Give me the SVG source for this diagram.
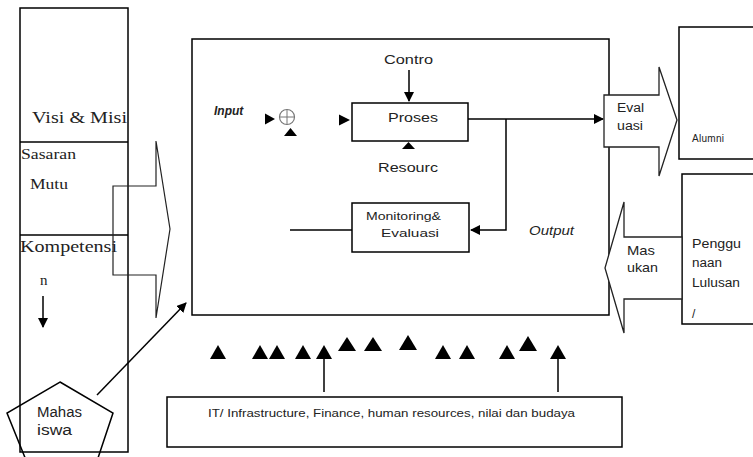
<svg xmlns="http://www.w3.org/2000/svg" width="753" height="457" viewBox="0 0 753 457">
<defs>
<style>
.ln{fill:none;stroke:#000;stroke-width:1.5}
.bx{fill:#fff;stroke:#000;stroke-width:1.5}
.thin{fill:none;stroke:#222;stroke-width:1.2}
.tri{fill:#000}
.serif{font-family:"Liberation Serif","DejaVu Serif",serif;fill:#222}
.sans{font-family:"Liberation Sans",Arial,sans-serif;fill:#222}
.it{font-style:italic}
</style>
<marker id="ahb" viewBox="0 0 10 10" refX="9" refY="5" markerWidth="10" markerHeight="10" orient="auto" markerUnits="userSpaceOnUse">
<path d="M0,0 L10,5 L0,10 z" fill="#000"/>
</marker>
</defs>
<rect width="753" height="457" fill="#fff"/>

<g id="left-column">
<rect class="bx" x="20" y="8" width="108" height="444"/>
<line class="ln" x1="20" y1="142" x2="128" y2="142"/>
<line class="ln" x1="20" y1="235" x2="128" y2="235"/>
<text class="serif" x="32" y="123" font-size="17" textLength="95" lengthAdjust="spacingAndGlyphs">Visi &amp; Misi</text>
<text class="serif" x="21" y="159" font-size="14" textLength="55" lengthAdjust="spacingAndGlyphs">Sasaran</text>
<text class="serif" x="30" y="189" font-size="15" textLength="38" lengthAdjust="spacingAndGlyphs">Mutu</text>
<text class="serif" x="20" y="252" font-size="16" textLength="97" lengthAdjust="spacingAndGlyphs">Kompetensi</text>
<text class="serif" x="40" y="285" font-size="15">n</text>
<line class="ln" x1="43" y1="296" x2="43" y2="327" marker-end="url(#ahb)"/>
</g>

<g id="big-arrow-right">
<polygon class="thin" points="113,186 156,186 156,141 170,229 156,318 156,275 113,275"/>
</g>

<g id="main-box">
<rect class="bx" x="192" y="39" width="417" height="276"/>
</g>

<g id="proses">
<rect class="bx" x="352" y="103" width="116" height="38"/>
<text class="sans" x="388" y="122" font-size="13.5" textLength="50" lengthAdjust="spacingAndGlyphs">Proses</text>
</g>

<g id="monitoring">
<rect class="bx" x="352" y="203" width="117" height="49"/>
<text class="sans" x="366" y="220" font-size="11" textLength="75" lengthAdjust="spacingAndGlyphs">Monitoring&amp;</text>
<text class="sans" x="381" y="237" font-size="11" textLength="58" lengthAdjust="spacingAndGlyphs">Evaluasi</text>
</g>

<g id="labels">
<text class="sans" x="384" y="64" font-size="13.5" textLength="49" lengthAdjust="spacingAndGlyphs">Contro</text>
<text class="sans" x="378" y="172" font-size="13.5" textLength="60" lengthAdjust="spacingAndGlyphs">Resourc</text>
<text class="sans it" x="214" y="115" font-size="12" font-weight="bold">Input</text>
<text class="sans it" x="529" y="235" font-size="13" textLength="45" lengthAdjust="spacingAndGlyphs">Output</text>
</g>

<g id="sum-junction">
<circle cx="287" cy="117" r="7.5" fill="none" stroke="#777" stroke-width="1.2"/>
<line x1="279.5" y1="117" x2="294.5" y2="117" stroke="#777" stroke-width="1"/>
<line x1="287" y1="109.5" x2="287" y2="124.5" stroke="#777" stroke-width="1"/>
<polygon class="tri" points="265,113.5 275,119 265,124.5"/>
<polygon class="tri" points="284,136 290.5,128 297,136"/>
<polygon class="tri" points="339,114.5 350,120 339,125.5"/>
<polygon class="tri" points="402,149 408.5,142 415,149"/>
</g>

<g id="connectors">
<line class="ln" x1="409" y1="70" x2="409" y2="101" marker-end="url(#ahb)"/>
<line class="ln" x1="468" y1="119" x2="603" y2="119" marker-end="url(#ahb)"/>
<polyline class="ln" points="506,119 506,230 471,230" marker-end="url(#ahb)"/>
<line class="ln" x1="290" y1="230" x2="352" y2="230"/>
<line class="ln" x1="97" y1="395" x2="186" y2="303" marker-end="url(#ahb)"/>
<line class="ln" x1="324" y1="392" x2="324" y2="352" stroke-width="2.2"/>
<line class="ln" x1="558" y1="392" x2="558" y2="352" stroke-width="2.2"/>
</g>

<g id="evaluasi-arrow">
<polygon fill="#fff" stroke="#222" stroke-width="1.3" points="604,95 659,95 659,67 677,120 659,176 659,147 604,147"/>
<text class="sans" x="617" y="112" font-size="12" textLength="27" lengthAdjust="spacingAndGlyphs">Eval</text>
<text class="sans" x="617" y="130" font-size="12" textLength="26" lengthAdjust="spacingAndGlyphs">uasi</text>
</g>

<g id="alumni">
<rect class="bx" x="679" y="27" width="90" height="132"/>
<text class="sans" x="692" y="142" font-size="10" letter-spacing="0.3">Alumni</text>
</g>

<g id="penggunaan">
<rect class="bx" x="682" y="174" width="90" height="150"/>
<text class="sans" x="692" y="248" font-size="12" textLength="49" lengthAdjust="spacingAndGlyphs">Penggu</text>
<text class="sans" x="692" y="267" font-size="12" textLength="30" lengthAdjust="spacingAndGlyphs">naan</text>
<text class="sans" x="692" y="287" font-size="12" textLength="48" lengthAdjust="spacingAndGlyphs">Lulusan</text>
<text class="sans" x="692" y="318" font-size="12">/</text>
</g>

<g id="masukan-arrow">
<polygon fill="#fff" stroke="#222" stroke-width="1.3" points="682,237 624,237 624,202 605,268 624,333 624,299 682,299"/>
<text class="sans" x="627" y="255" font-size="13.5" textLength="28" lengthAdjust="spacingAndGlyphs">Mas</text>
<text class="sans" x="627" y="272" font-size="13.5" textLength="31" lengthAdjust="spacingAndGlyphs">ukan</text>
</g>

<g id="mahasiswa">
<polygon points="60,382 113,413 94,470 30,470 7,413" fill="none" stroke="#000" stroke-width="1.5"/>
<text class="sans" x="37" y="417" font-size="14" textLength="45" lengthAdjust="spacingAndGlyphs">Mahas</text>
<text class="sans" x="37" y="435" font-size="14" textLength="35" lengthAdjust="spacingAndGlyphs">iswa</text>
</g>

<g id="resource-triangles">
<polygon class="tri" points="210,359 218,345 226,359"/>
<polygon class="tri" points="252,359 260,345 268,359"/>
<polygon class="tri" points="269,359 277,345 285,359"/>
<polygon class="tri" points="295,359 303,345 311,359"/>
<polygon class="tri" points="316,359 324,345 332,359"/>
<polygon class="tri" points="338,351 347,337 356,351"/>
<polygon class="tri" points="364,351 373,337 382,351"/>
<polygon class="tri" points="399,350 408,335 417,350"/>
<polygon class="tri" points="435,359 443,345 451,359"/>
<polygon class="tri" points="459,359 467,345 475,359"/>
<polygon class="tri" points="499,359 507,345 515,359"/>
<polygon class="tri" points="519,351 528,336 537,351"/>
<polygon class="tri" points="550,359 558,345 566,359"/>
</g>

<g id="it-box">
<rect class="bx" x="167" y="397" width="455" height="50"/>
<text class="sans" x="208" y="417" font-size="10" textLength="367" lengthAdjust="spacingAndGlyphs">IT/ Infrastructure, Finance, human resources, nilai dan budaya</text>
</g>
</svg>
